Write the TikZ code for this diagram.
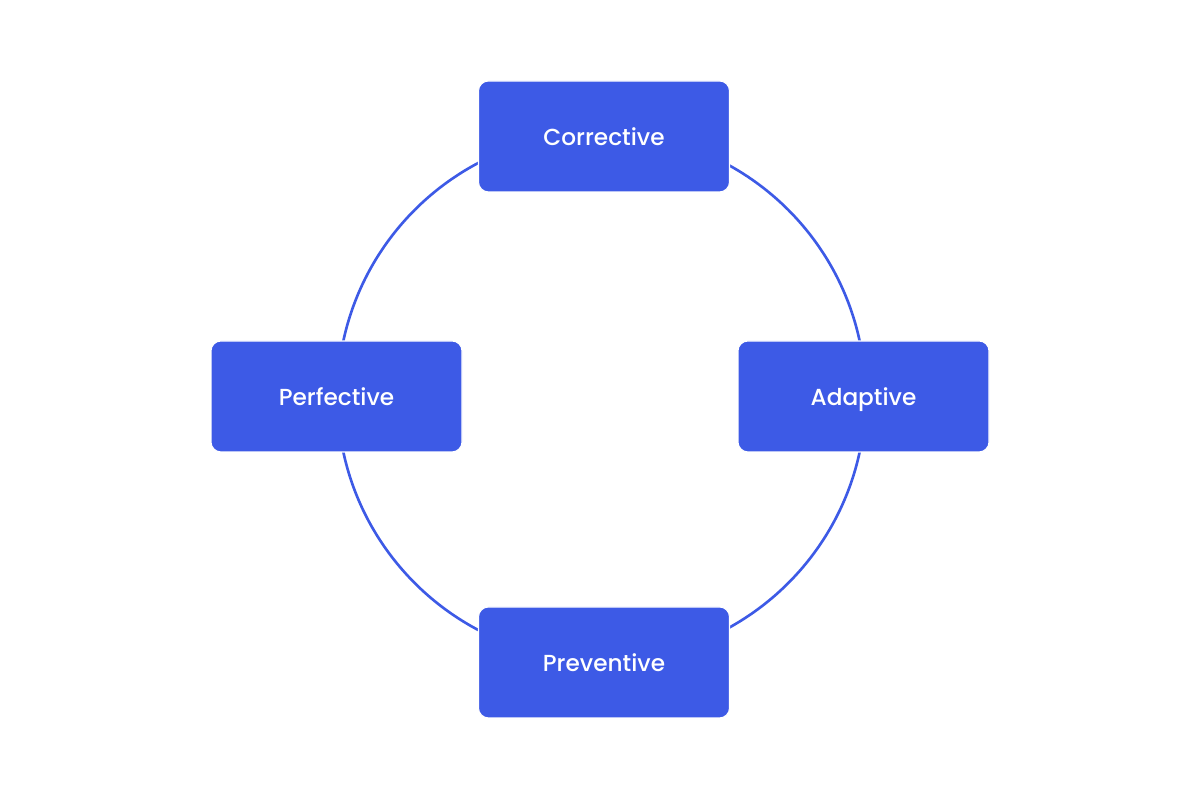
\documentclass[tikz,border=0pt]{standalone}
\usepackage{fontspec}
\newfontfamily\popmed{Poppins Medium}
\usetikzlibrary{positioning}
\definecolor{boxblue}{RGB}{61,90,230}

\begin{document}
\begin{tikzpicture}[
  kind/.style={rectangle,rounded corners=0.1cm,fill=boxblue,draw=white,line width=0.3pt,
    minimum width=2.51cm,minimum height=1.11cm,text height=1.6ex,text depth=0.45ex,
    text=white,font=\popmed\fontsize{6.6}{8}\selectfont},
  ring/.style={draw=boxblue,line width=0.75pt}]

\useasboundingbox (0,0) rectangle (12,8);

\coordinate (c) at (6.015,4.035);
\draw[ring] (c) circle (2.64cm);

\node[kind] (corr) at (6.04,6.635) {Corrective};
\node[kind] (adap) at (8.635,4.035) {Adaptive};
\node[kind] (perf) at (3.365,4.035) {Perfective};
\node[kind] (prev) at (6.04,1.375) {Preventive};
\end{tikzpicture}
\end{document}
